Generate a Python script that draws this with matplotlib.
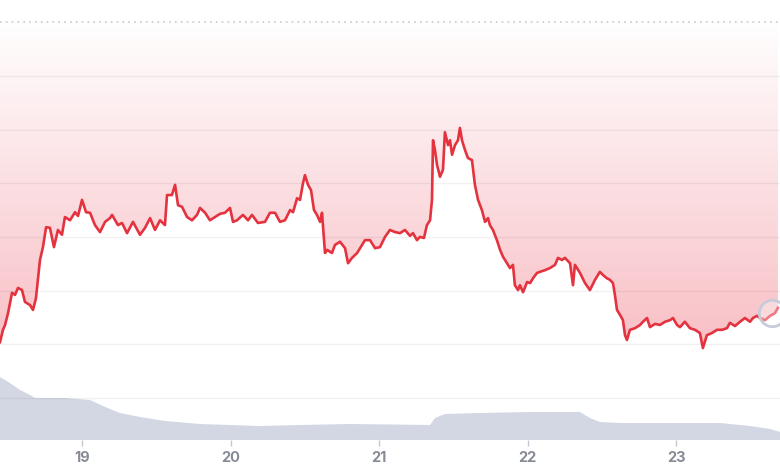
import numpy as np
import matplotlib
matplotlib.use("Agg")
import matplotlib.pyplot as plt
from matplotlib.colors import LinearSegmentedColormap

# price series (day of month, price units)
day = [18.448, 18.468, 18.482, 18.502, 18.529, 18.549, 18.569, 18.596, 18.616, 18.650,
       18.670, 18.690, 18.717, 18.737, 18.758, 18.784, 18.811, 18.838, 18.865, 18.885,
       18.919, 18.953, 18.973, 19.000, 19.027, 19.054, 19.087, 19.121, 19.155, 19.188,
       19.202, 19.242, 19.269, 19.303, 19.343, 19.390, 19.424, 19.458, 19.491, 19.525,
       19.558, 19.572, 19.605, 19.626, 19.646, 19.673, 19.707, 19.740, 19.774, 19.794,
       19.828, 19.861, 19.895, 19.929, 19.962, 19.996, 20.016, 20.043, 20.083, 20.117,
       20.144, 20.184, 20.231, 20.265, 20.299, 20.332, 20.366, 20.400, 20.420, 20.447,
       20.467, 20.487, 20.500, 20.521, 20.541, 20.561, 20.581, 20.602, 20.615, 20.635,
       20.649, 20.682, 20.702, 20.736, 20.770, 20.790, 20.817, 20.851, 20.884, 20.904,
       20.938, 20.972, 21.005, 21.039, 21.072, 21.106, 21.140, 21.173, 21.207, 21.227,
       21.254, 21.274, 21.301, 21.321, 21.342, 21.355, 21.362, 21.375, 21.389, 21.409,
       21.429, 21.442, 21.463, 21.476, 21.490, 21.510, 21.530, 21.543, 21.557, 21.577,
       21.597, 21.624, 21.644, 21.665, 21.691, 21.712, 21.732, 21.745, 21.765, 21.792,
       21.813, 21.833, 21.860, 21.880, 21.900, 21.913, 21.934, 21.947, 21.968, 21.995,
       22.015, 22.035, 22.062, 22.082, 22.115, 22.149, 22.183, 22.203, 22.230, 22.250,
       22.284, 22.304, 22.317, 22.351, 22.385, 22.418, 22.452, 22.485, 22.506, 22.532,
       22.553, 22.573, 22.586, 22.600, 22.620, 22.640, 22.654, 22.667, 22.687, 22.721,
       22.755, 22.775, 22.802, 22.822, 22.856, 22.889, 22.923, 22.957, 22.977, 23.004,
       23.024, 23.057, 23.091, 23.125, 23.158, 23.178, 23.205, 23.239, 23.273, 23.307,
       23.340, 23.360, 23.394, 23.428, 23.461, 23.495, 23.515, 23.542, 23.562, 23.596,
       23.630, 23.663, 23.683]
price = [2.04, 2.27, 2.36, 2.58, 2.96, 2.92, 3.05, 3.01, 2.79, 2.73,
         2.64, 2.86, 3.57, 3.81, 4.18, 4.17, 3.81, 4.13, 4.04, 4.37,
         4.31, 4.46, 4.39, 4.69, 4.46, 4.45, 4.22, 4.09, 4.28, 4.35,
         4.41, 4.22, 4.26, 4.07, 4.28, 4.04, 4.17, 4.35, 4.13, 4.31,
         4.22, 4.78, 4.78, 4.97, 4.59, 4.56, 4.37, 4.31, 4.41, 4.54,
         4.45, 4.31, 4.37, 4.43, 4.45, 4.54, 4.28, 4.31, 4.41, 4.31,
         4.41, 4.26, 4.28, 4.45, 4.45, 4.28, 4.31, 4.50, 4.46, 4.72,
         4.69, 5.00, 5.15, 4.97, 4.87, 4.50, 4.41, 4.28, 4.45, 3.70,
         3.76, 3.70, 3.85, 3.91, 3.79, 3.51, 3.61, 3.70, 3.85, 3.94,
         3.94, 3.79, 3.81, 4.00, 4.13, 4.09, 4.07, 4.13, 4.02, 4.07,
         3.94, 4.00, 3.98, 4.22, 4.31, 4.69, 5.80, 5.62, 5.34, 5.12,
         5.25, 5.95, 5.71, 5.80, 5.53, 5.71, 5.80, 6.03, 5.80, 5.62,
         5.47, 5.43, 4.97, 4.69, 4.50, 4.28, 4.35, 4.22, 4.13, 3.94,
         3.76, 3.63, 3.51, 3.42, 3.48, 3.10, 3.01, 3.10, 2.97, 3.16,
         3.14, 3.23, 3.33, 3.35, 3.38, 3.42, 3.48, 3.61, 3.57, 3.61,
         3.51, 3.10, 3.48, 3.33, 3.14, 3.01, 3.20, 3.35, 3.29, 3.23,
         3.20, 3.14, 2.92, 2.64, 2.55, 2.45, 2.17, 2.08, 2.27, 2.30,
         2.36, 2.42, 2.49, 2.32, 2.38, 2.36, 2.42, 2.45, 2.49, 2.36,
         2.32, 2.42, 2.30, 2.27, 2.21, 1.93, 2.17, 2.21, 2.27, 2.27,
         2.30, 2.40, 2.34, 2.42, 2.49, 2.42, 2.49, 2.53, 2.49, 2.45,
         2.53, 2.58, 2.68]

# volume profile
vol_day = [18.448, 18.515, 18.583, 18.650, 18.684, 18.885, 19.054, 19.155, 19.255, 19.390,
           19.558, 19.794, 19.996, 20.198, 20.467, 20.803, 21.342, 21.375, 21.442, 21.678,
           22.015, 22.351, 22.418, 22.485, 22.620, 23.024, 23.293, 23.495, 23.630, 23.697]
volume = [6.3, 5.7, 5.0, 4.5, 4.2, 4.2, 4.0, 3.3, 2.7, 2.3,
          1.9, 1.6, 1.5, 1.4, 1.5, 1.6, 1.5, 2.2, 2.6, 2.7,
          2.8, 2.8, 2.2, 1.8, 1.7, 1.7, 1.7, 1.4, 1.1, 0.8]

day_ticks = [19, 20, 21, 22, 23]
grid_levels = [1, 2, 3, 4, 5, 6, 7]
top_level = 8
hover_day, hover_price = 23.643, 2.58

X_RANGE = (18.448, 23.697)
Y_RANGE = (0.218, 8.412)
LINE_RED = "#e5323f"

fig = plt.figure(figsize=(7.8, 4.7), dpi=100)
ax = fig.add_axes([0, 30 / 470, 1, 440 / 470])
ax.set_xlim(*X_RANGE)
ax.set_ylim(*Y_RANGE)
for s in ax.spines.values():
    s.set_visible(False)

# gradient above the price line
poly = ax.fill_between(day, price, top_level, color="none", linewidth=0)
cmap = LinearSegmentedColormap.from_list("pinkfade", ["#f8c0c6", "#ffffff"])
grad = np.linspace(0, 1, 256).reshape(-1, 1)
im = ax.imshow(grad, cmap=cmap, origin="lower", aspect="auto",
               extent=[X_RANGE[0], X_RANGE[1], 2.0, top_level], zorder=1,
               interpolation="bicubic")
im.set_clip_path(poly.get_paths()[0], transform=ax.transData)
ax.set_xlim(*X_RANGE)
ax.set_ylim(*Y_RANGE)

for g in grid_levels:
    ax.axhline(g, color=(0, 0, 0, 0.055), linewidth=1, zorder=2)
ax.axhline(top_level, color="#c9c9c9", linewidth=1.2, linestyle=(0, (1, 2.5)), zorder=2)

# volume on its own scale
axv = ax.twinx()
axv.set_ylim(0, 44)
axv.fill_between(vol_day, volume, 0, color="#d2d7e3", linewidth=0, zorder=1)
axv.set_yticks([])
for s in axv.spines.values():
    s.set_visible(False)
axv.set_zorder(ax.get_zorder() - 1)
ax.patch.set_visible(False)

ax.plot(day, price, color=LINE_RED, linewidth=1.9, zorder=4, solid_joinstyle="round")
ax.plot([hover_day], [hover_price], marker="o", markersize=19, markerfacecolor=(1, 1, 1, 0.35),
        markeredgecolor="#c6ccd8", markeredgewidth=2, zorder=5, clip_on=False)

ax.set_yticks([])
ax.set_xticks(day_ticks)
ax.set_xticklabels([str(d) for d in day_ticks])
ax.tick_params(axis="x", length=4, width=1, color="#c3c7cf", pad=4,
               labelsize=10.5, labelcolor="#878b96")
for lbl in ax.get_xticklabels():
    lbl.set_fontfamily(["Inter", "DejaVu Sans"])
    lbl.set_fontweight("bold")

fig.savefig("out.png", dpi=100)
